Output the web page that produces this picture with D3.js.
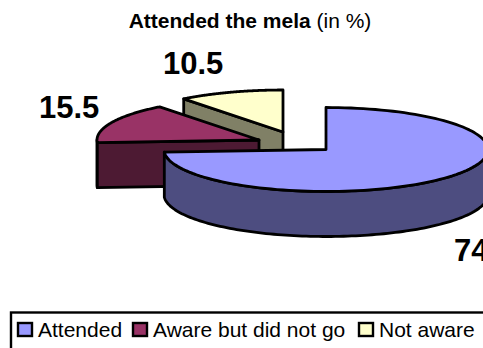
<!DOCTYPE html>
<html>
<head>
<meta charset="utf-8">
<script src="https://cdn.jsdelivr.net/npm/d3@7/dist/d3.min.js"></script>
<style>
html,body{margin:0;padding:0;background:#fff;overflow:hidden}
svg{display:block;font-family:"Liberation Sans",Arial,sans-serif}
</style>
</head>
<body>
<svg id="chart" width="483" height="348"></svg>
<script>
const categories = ["Attended", "Aware but did not go", "Not aware"];
const shares = [74, 15.5, 10.5];
const labels = ["74", "15.5", "10.5"];
const topColors = ["#9999ff", "#993366", "#ffffcc"];
const sideColors = ["#4d4d80", "#4d1a33", "#808066"];

const pieCenters = [[326, 149.5], [259, 140], [283, 132]];
const labelPositions = [[454, 261], [39, 118], [163, 74]];
const legendSwatchX = [18, 133, 359];
const rx = 162, ry = 42, depth = 45;

const svg = d3.select("#chart");
const arcs = d3.pie().sort(null).value(d => d)(shares);

// Projects a pie angle (clockwise from twelve o'clock) onto the tilted ellipse.
const project = (c, a, dy = 0) => [c[0] + rx * Math.sin(a), c[1] - ry * Math.cos(a) + dy];
const arcPoints = (c, a0, a1, dy = 0) =>
  d3.range(0, 121).map(i => project(c, a0 + (a1 - a0) * i / 120, dy));
const line = d3.line();

const drawFace = (pts, fill) => svg.append("path")
  .attr("d", line(pts) + "Z")
  .attr("fill", fill).attr("stroke", "#000").attr("stroke-width", 2.8)
  .attr("stroke-linejoin", "round");

// Back to front: the small wedges sit behind the large one.
[2, 1, 0].forEach(i => {
  const s = arcs[i], c = pieCenters[i];
  const a0 = s.startAngle, a1 = s.endAngle;
  const base = [c[0], c[1] + depth];

  if (i === 1) {
    // Short stretch of rim left of the cut face.
    const end = Math.min(a1, 1.5 * Math.PI);
    drawFace([...arcPoints(c, a0, end), ...arcPoints(c, a0, end, depth).reverse()], sideColors[i]);
  }
  if (i > 0) {
    // Cut face along the wedge's leading radius.
    drawFace([project(c, a0), c, base, project(c, a0, depth)], sideColors[i]);
  }
  if (i === 0) {
    // Outer rim across the front of the pie.
    const from = Math.PI / 2;
    drawFace([...arcPoints(c, from, a1), ...arcPoints(c, from, a1, depth).reverse()], sideColors[i]);
  }
  drawFace([c, ...arcPoints(c, a0, a1)], topColors[i]);
});

// Title
const title = svg.append("text").attr("x", 250).attr("y", 28)
  .attr("text-anchor", "middle").attr("font-size", 21).attr("fill", "#000");
title.append("tspan").attr("font-weight", "bold").text("Attended the mela");
title.append("tspan").text(" (in %)");

// Value labels
svg.selectAll("text.value").data(labels).join("text")
  .attr("class", "value")
  .attr("x", (d, i) => labelPositions[i][0])
  .attr("y", (d, i) => labelPositions[i][1])
  .attr("font-size", 31).attr("font-weight", "bold").attr("fill", "#000")
  .text(d => d);

// Legend box runs past the right and bottom edges of the page
svg.append("rect").attr("x", 11).attr("y", 312.5).attr("width", 480).attr("height", 50)
  .attr("fill", "#fff").attr("stroke", "#000").attr("stroke-width", 2.4);

const legend = svg.selectAll("g.legend").data(categories).join("g").attr("class", "legend");
legend.append("rect")
  .attr("x", (d, i) => legendSwatchX[i]).attr("y", 323)
  .attr("width", 14).attr("height", 13)
  .attr("fill", (d, i) => topColors[i]).attr("stroke", "#000").attr("stroke-width", 2.4);
legend.append("text")
  .attr("x", (d, i) => legendSwatchX[i] + 20).attr("y", 337)
  .attr("font-size", 21).attr("fill", "#000")
  .text(d => d);
</script>
</body>
</html>
